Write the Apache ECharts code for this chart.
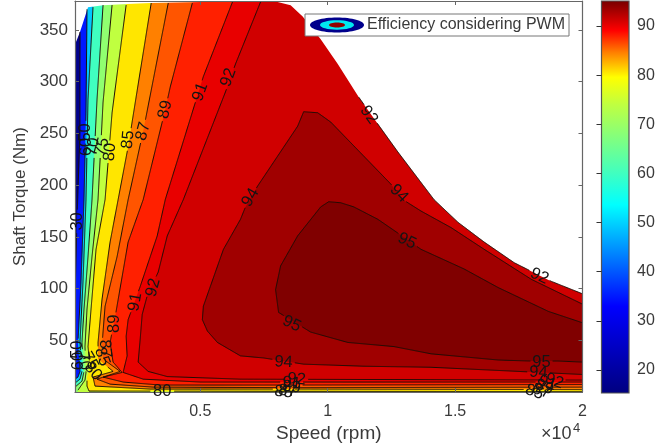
<!DOCTYPE html>
<html><head><meta charset="utf-8">
<style>html,body{margin:0;padding:0;background:#fff}#c{width:670px;height:448px;filter:blur(0.35px)}</style>
<script src="https://cdn.jsdelivr.net/npm/echarts@6/dist/echarts.min.js"></script>
</head><body><div id="c"></div>
<script>
const speedTicks=[5000,10000,15000,20000];
const torqueTicks=[50,100,150,200,250,300,350];
const colorbarTicks=[20,30,40,50,60,70,80,90];
const colorbarStops=[[15.3,'#00007f'],[33,'#0000ff'],[53.6,'#00ffff'],[60,'#40ffc0'],[67,'#80ff80'],[74,'#c0ff40'],[79.5,'#ffff00'],[84.5,'#ff8000'],[89,'#ff0000'],[94.7,'#7f0000']];
const envelope=[[80,336],[276,348],[591,372],[1181,374],[2126,375],[3031,376],[5000,377],[7874,378],[8544,374],[9016,363],[9724,341],[10394,317],[11220,285],[11968,259],[12756,232],[14173,186],[15118,164],[16142,145],[17323,125],[18780,107],[20000,95]];
const contourEdge=[[11220,285],[11968,259],[12756,232],[14173,186],[15118,164],[16142,145],[17323,125],[18780,107],[20000,95]];
const contour30=[[276,348],[276,251],[157,165],[79,90],[79,51],[60,0]];
const contour50=[[551,370],[512,270],[433,186],[315,106],[197,48],[276,20],[197,14.5],[79,12.5]];
const contour60=[[787,372],[591,283],[512,186],[394,106],[276,48],[354,20],[276,12.5],[79,8.7]];
const contour70=[[1181,374],[945,283],[748,186],[591,131],[433,80],[354,48],[433,20],[354,10.6],[79,4.8]];
const contour75=[[1535,374],[1181,280],[984,186],[748,131],[551,80],[472,44],[512,19],[472,11.6],[197,1.9]];
const contour80=[[2087,374],[1535,270],[1260,186],[906,138],[709,80],[591,44],[669,24],[551,14.5],[551,5.8],[630,1],[3425,0.9],[20000,0.5]];
const contour85=[[3071,376],[2165,237],[1772,186],[1457,145],[1142,90],[984,48],[984,32],[1575,20],[787,14.5],[866,5.8],[3031,2.9],[8780,2.9],[20000,2.4]];
const contour87=[[3740,376],[2756,252],[2165,186],[1732,131],[1260,83],[1142,46],[1181,32],[1850,20],[945,12.5],[1457,7.7],[3150,4.8],[8780,4.3],[20000,4.8]];
const contour89=[[4685,376],[3819,295],[3622,273],[2756,186],[2165,145],[1693,78],[1457,48],[1575,29],[1929,19],[1181,14.5],[1969,9.7],[3425,6.8],[8780,6.8],[20000,7.3]];
const contour91=[[6260,377],[5118,305],[3622,186],[3307,151],[2638,102],[2165,70],[2087,54],[2126,35],[1969,19],[2756,12.5],[5000,9.7],[20000,9.7]];
const contour92=[[7362,377],[6378,317],[5984,290],[4331,186],[3701,151],[3346,116],[2913,93],[2717,75],[2638,51],[2559,29],[2953,20],[3701,15],[6575,12.5],[20000,11.6]];
const contour94=[[20000,17],[17480,20],[14055,24],[11417,25],[9055,27],[7480,33],[6575,35],[5669,48],[5276,59],[5079,70],[5118,83],[5906,138],[6575,167],[6772,179],[7244,199],[8819,257],[9055,271],[9606,270],[10118,261],[10787,244],[12480,201],[12953,186],[13661,175],[14842,159],[16142,138],[17992,109],[20000,85]];
const contour95=[[20000,29],[19055,30],[17992,30],[16693,31],[14055,37],[12598,44],[10787,48],[9331,58],[8071,77],[7953,99],[8150,122],[8819,151],[9724,179],[10039,184],[10512,183],[11024,179],[11968,167],[12677,155],[13661,138],[15354,119],[16693,101],[18661,78],[20000,67]];
const contourLevels=[30,50,60,70,75,80,85,87,89,91,92,94,95];
const contourLines=[contour30,contour50,contour60,contour70,contour75,contour80,contour85,contour87,contour89,contour91,contour92,contour94,contour95];
const labelPoints=[[30,157,165],[50,472,251],[60,512,237],[70,787,237],[75,1142,237],[80,1457,232],[85,2165,244],[87,2756,252],[89,3622,273],[91,5000,290],[92,6102,304],[93,11614,268],[94,12795,192],[94,6968,188],[95,13110,146],[93,18307,112],[95,8583,66],[94,8268,29],[95,18386,29],[94,18268,19],[92,3150,101],[91,2441,87],[89,1614,66],[87,1260,42],[85,1142,34],[80,787,20],[75,669,30],[70,433,30],[60,197,30],[50,157,41],[80,3504,1],[92,8780,12.5],[91,8583,8.7],[89,8583,4.8],[87,8425,1],[85,8268,0],[92,18898,10.6],[91,18622,8.7],[89,18504,4.8],[87,18386,1],[85,18110,0]];
const labelTexts=['30','50','60','70','75','80','85','87','89','91','92','92','94','94','95','92','95','94','95','94','92','91','89','87','85','80','75','70','60','50','80','92','91','89','87','85','92','91','89','87','85'];
const labelAngles=[90,90,90,80,75,85,85,75,78,70,70,-55,-45,60,-25,-25,-25,-3,0,-3,75,80,90,-85,-70,-50,-60,-80,90,90,0,-5,-5,-5,-5,-5,-20,-20,-20,-20,-20];
const bandColors=['#0018ff','#00c8ff','#40ffc0','#90ff70','#c0ff40','#ffe600','#ff8000','#ff5500','#ff2000','#e80000','#d00000','#a00000','#800000'];
const baseColor='#00008c';
const xMin=80,xMax=20000,yMin=0,yMax=378,cbMin=15.3,cbMax=95.1;

const lineColor='#1c0c04',axisColor='#666',textColor='#3a3a3a',font='"Liberation Sans"';

function fillLayers(){
  const L=[{pts:[[xMin,yMin],[xMax,yMin],[xMax,yMax],[xMin,yMax]],color:baseColor}];
  contourLevels.forEach((lv,i)=>{
    let pts=contourLines[i].slice();
    if(lv<94){
      const last=pts[pts.length-1];
      if(last[0]<xMax) pts=pts.concat([[last[0],yMin],[xMax,yMin]]);
      pts=pts.concat([[xMax,yMax],[pts[0][0],yMax]]);
    }
    L.push({pts,color:bandColors[i]});
  });
  L.push({pts:envelope.concat([[xMax,yMax],[xMin,yMax]]),color:'#ffffff'});
  return L;
}
const layers=fillLayers();
const strokes=contourLevels.map((lv,i)=>({level:lv,pts:contourLines[i]})).concat([{level:93,pts:contourEdge}]);

function brokenLine(api,s){
  const gaps=labelPoints.filter(p=>p[0]===s.level).map(p=>api.coord([p[1],p[2]]));
  const R=11,out=[];let cur=[];
  const px=s.pts.map(p=>api.coord(p));
  for(let i=0;i<px.length-1;i++){
    const a=px[i],b=px[i+1],d=Math.hypot(b[0]-a[0],b[1]-a[1]),n=Math.max(1,Math.ceil(d));
    for(let k=0;k<=n;k++){
      const q=[a[0]+(b[0]-a[0])*k/n,a[1]+(b[1]-a[1])*k/n];
      if(gaps.some(g=>Math.hypot(g[0]-q[0],g[1]-q[1])<R)){if(cur.length>1)out.push(cur);cur=[];}
      else cur.push(q);
    }
  }
  if(cur.length>1)out.push(cur);
  return out;
}

const chart=echarts.init(document.getElementById('c'),null,{renderer:'canvas'});
chart.setOption({
  animation:false,
  grid:[{left:75,top:1,width:507.5,height:392,show:false},{left:601.5,top:1,width:27.5,height:392,show:false}],
  xAxis:[
    {type:'value',gridIndex:0,min:xMin,max:xMax,position:'bottom',z:5,name:'Speed (rpm)',nameLocation:'middle',nameGap:27,
      nameTextStyle:{fontFamily:font,fontSize:19,color:textColor},
      axisLine:{show:true,onZero:false,lineStyle:{color:axisColor,width:1.2}},
      axisTick:{show:true,inside:true,length:4,customValues:speedTicks,lineStyle:{color:axisColor}},
      axisLabel:{show:true,customValues:speedTicks,margin:11,fontFamily:font,fontSize:16,color:textColor,formatter:v=>String(v/10000)},splitLine:{show:false}},
    {type:'value',gridIndex:0,min:xMin,max:xMax,position:'top',z:5,
      axisLine:{show:true,onZero:false,lineStyle:{color:axisColor,width:1.2}},
      axisTick:{show:true,inside:true,length:4,customValues:speedTicks,lineStyle:{color:axisColor}},
      axisLabel:{show:false},splitLine:{show:false}},
    {type:'value',gridIndex:1,min:0,max:1,show:false}
  ],
  yAxis:[
    {type:'value',gridIndex:0,min:yMin,max:yMax,position:'left',z:5,name:'Shaft Torque (Nm)',nameLocation:'middle',nameGap:44,
      nameTextStyle:{fontFamily:font,fontSize:17,color:textColor},
      axisLine:{show:true,onZero:false,lineStyle:{color:axisColor,width:1.2}},
      axisTick:{show:true,inside:true,length:4,customValues:torqueTicks,lineStyle:{color:axisColor}},
      axisLabel:{show:true,customValues:torqueTicks,margin:7,fontFamily:font,fontSize:17,color:textColor},splitLine:{show:false}},
    {type:'value',gridIndex:0,min:yMin,max:yMax,position:'right',z:5,
      axisLine:{show:true,onZero:false,lineStyle:{color:axisColor,width:1.2}},
      axisTick:{show:true,inside:true,length:4,customValues:torqueTicks,lineStyle:{color:axisColor}},
      axisLabel:{show:false},splitLine:{show:false}},
    {type:'value',gridIndex:1,min:cbMin,max:cbMax,position:'right',z:5,
      axisLine:{show:false},
      axisTick:{show:true,inside:true,length:5,customValues:colorbarTicks,lineStyle:{color:'#333'}},
      axisLabel:{show:true,customValues:colorbarTicks,margin:8,fontFamily:font,fontSize:16,color:textColor},splitLine:{show:false}}
  ],
  series:[
    {type:'custom',xAxisIndex:0,yAxisIndex:0,z:1,clip:true,silent:true,data:layers.map((_,i)=>[i]),encode:{x:-1,y:-1},
      renderItem:(p,api)=>{const l=layers[p.dataIndex];
        return {type:'polygon',shape:{points:l.pts.map(q=>api.coord(q))},style:{fill:l.color,stroke:null}};}},
    {type:'custom',xAxisIndex:0,yAxisIndex:0,z:2,clip:true,silent:true,data:strokes.map((_,i)=>[i]),encode:{x:-1,y:-1},
      renderItem:(p,api)=>({type:'group',children:brokenLine(api,strokes[p.dataIndex]).map(seg=>({type:'polyline',shape:{points:seg},style:{stroke:lineColor,lineWidth:1,fill:null}}))})},
    {type:'custom',xAxisIndex:0,yAxisIndex:0,z:6,clip:false,silent:true,data:labelPoints.map((_,i)=>[i]),encode:{x:-1,y:-1},
      renderItem:(p,api)=>{const i=p.dataIndex,c=api.coord([labelPoints[i][1],labelPoints[i][2]]);
        return {type:'text',x:c[0],y:c[1],rotation:labelAngles[i]*Math.PI/180,
          style:{text:labelTexts[i],fill:'#141414',font:'16.5px "Liberation Sans"',align:'center',verticalAlign:'middle'}};}},
    {type:'custom',xAxisIndex:2,yAxisIndex:2,z:1,silent:true,data:[[0]],encode:{x:-1,y:-1},
      renderItem:(p,api)=>{const a=api.coord([0,cbMax]),b=api.coord([1,cbMin]);
        const span=cbMax-cbMin;
        const stops=colorbarStops.map(s=>({offset:Math.min(1,(cbMax-s[0])/span),color:s[1]}));
        stops.sort((u,v)=>u.offset-v.offset);
        return {type:'rect',shape:{x:a[0],y:a[1],width:b[0]-a[0],height:b[1]-a[1]},
          style:{fill:new echarts.graphic.LinearGradient(0,0,0,1,stops),stroke:'#555',lineWidth:1.2}};}}
  ],
  graphic:[
    {type:'rect',z:20,shape:{x:305,y:14,width:264,height:22},style:{fill:'#fff',stroke:'#777',lineWidth:1}},
    {type:'ellipse',z:21,shape:{cx:337,cy:25,rx:27,ry:7.5},style:{fill:'#00008c'}},
    {type:'ellipse',z:22,shape:{cx:337,cy:25,rx:17,ry:4.7},style:{fill:'#00e8f0'}},
    {type:'ellipse',z:23,shape:{cx:337,cy:25,rx:8,ry:2.5},style:{fill:'#900000'}},
    {type:'text',z:24,x:367,y:25,style:{text:'Efficiency considering PWM',fill:textColor,font:'16px "Liberation Sans"',verticalAlign:'middle'}},
    {type:'text',z:24,x:541,y:434,style:{text:'×10',fill:textColor,font:'18px "Liberation Sans"',verticalAlign:'middle'}},
    {type:'text',z:24,x:573,y:428,style:{text:'4',fill:textColor,font:'13px "Liberation Sans"',verticalAlign:'middle'}}
  ]
});
</script></body></html>
